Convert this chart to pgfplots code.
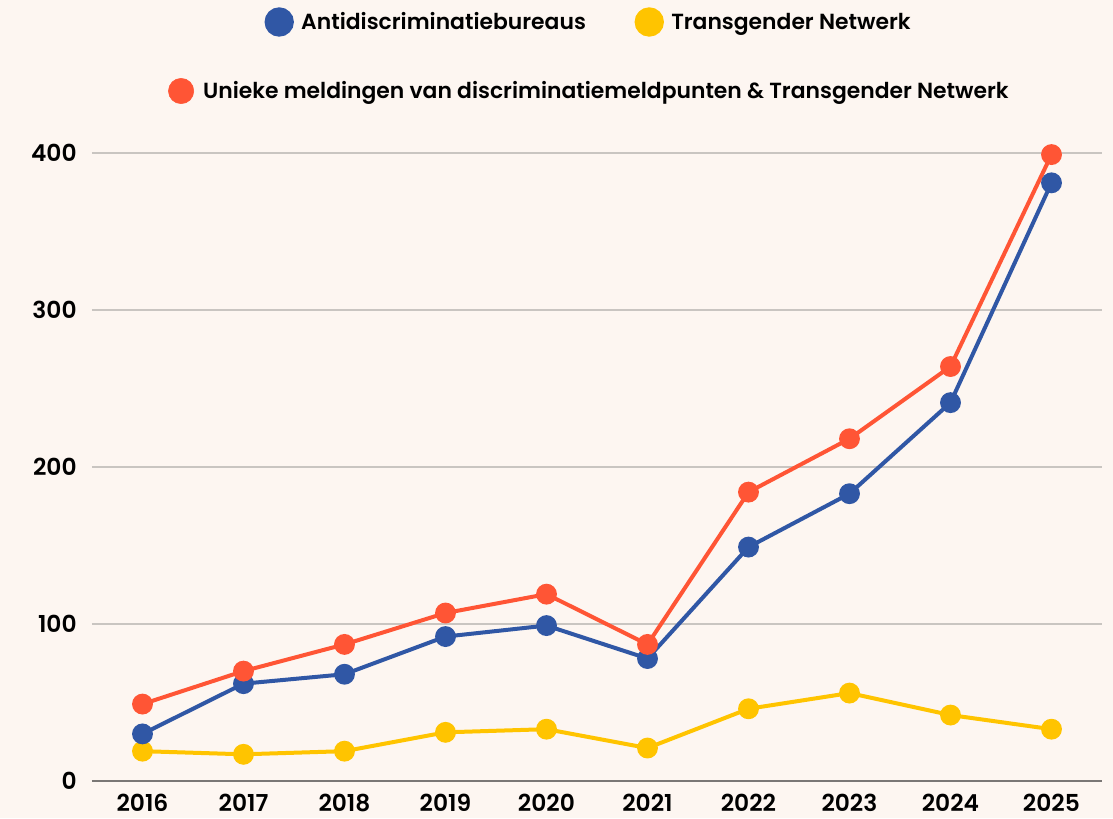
\documentclass[border=0pt]{standalone}
\usepackage{fontspec}
\setmainfont{Poppins}[BoldFont={Poppins SemiBold}]
\usepackage{pgfplots}
\pgfplotsset{compat=1.18}
\definecolor{bgc}{HTML}{FDF6F1}
\definecolor{cblue}{HTML}{3057A5}
\definecolor{cyel}{HTML}{FFC400}
\definecolor{corg}{HTML}{FF5535}
\definecolor{cgrid}{HTML}{C9C5C1}
\definecolor{caxis}{HTML}{7A7775}
\begin{document}
\begin{tikzpicture}
\fill[bgc] (-69pt,-27.75pt) rectangle (765.75pt,585.75pt);
\pgfplotsset{
  common/.style={
    scale only axis, width=757.5pt, height=471pt,
    xmin=2015.5, xmax=2025.5, ymin=0, ymax=400,
    clip=false,
  },
  legimg/.style={
    legend image code/.code={\draw[mark=*, mark size=9.5pt] plot coordinates {(0.2cm,0cm)};},
  },
}
\begin{axis}[common, legimg,
  axis x line*=bottom, axis y line*=left,
  x axis line style={draw=caxis, line width=0.8pt, -},
  y axis line style={draw=none},
  xtick={2016,...,2025}, xticklabels={2016,2017,2018,2019,2020,2021,2022,2023,2024,2025},
  ytick={100,200,300,400},
  extra y ticks={0}, extra y tick style={grid=none},
  major tick style={draw=none},
  ymajorgrids, grid style={cgrid, line width=0.8pt},
  xticklabel style={font=\bfseries\fontsize{17.5}{20}\selectfont, yshift=-6pt},
  yticklabel style={font=\bfseries\fontsize{17.5}{20}\selectfont, xshift=-8pt},
  /pgf/number format/assume math mode=true,
  legend style={draw=none, fill=none, at={(0.493,1.2086)}, anchor=center,
    font=\bfseries\fontsize{16.4}{19}\selectfont,
    /tikz/every odd column/.append style={column sep=5pt},
    /tikz/every even column/.append style={column sep=36pt}},
  legend columns=2,
  legend cell align=left,
  every axis plot/.append style={line width=3pt, mark=*, mark size=6.3pt},
]
\addplot[cyel, mark options={fill=cyel, draw=cyel}, forget plot] coordinates {
(2016,19) (2017,17) (2018,19) (2019,31) (2020,33) (2021,21) (2022,46) (2023,56) (2024,42) (2025,33)};
\addplot[cblue, mark options={fill=cblue, draw=cblue}] coordinates {
(2016,30) (2017,62) (2018,68) (2019,92) (2020,99) (2021,78) (2022,149) (2023,183) (2024,241) (2025,381)};
\addlegendentry{Antidiscriminatiebureaus}
\addplot[corg, mark options={fill=corg, draw=corg}, forget plot] coordinates {
(2016,49) (2017,70) (2018,87) (2019,107) (2020,119) (2021,87) (2022,184) (2023,218) (2024,264) (2025,399)};
\addlegendimage{cyel, mark=*, mark options={fill=cyel, draw=cyel}}
\addlegendentry{Transgender Netwerk}
\end{axis}
\begin{axis}[common, hide axis, legimg,
  legend style={draw=none, fill=none, at={(0.493,1.0987)}, anchor=center,
    font=\bfseries\fontsize{16.4}{19}\selectfont,
    /tikz/every odd column/.append style={column sep=5pt}},
]
\addlegendimage{corg, mark=*, mark options={fill=corg, draw=corg}}
\addlegendentry{Unieke meldingen van discriminatiemeldpunten \& Transgender Netwerk}
\end{axis}
\end{tikzpicture}
\end{document}
